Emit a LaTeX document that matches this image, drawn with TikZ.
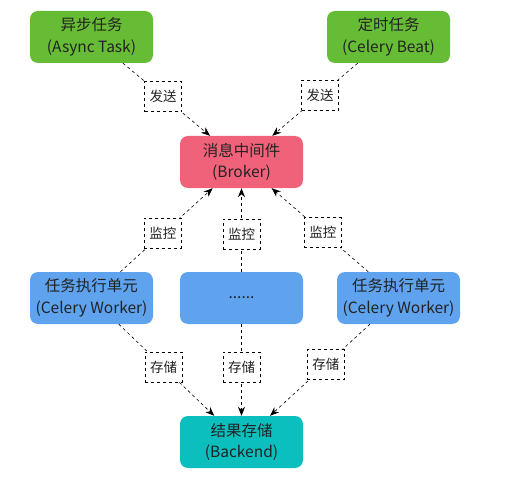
\documentclass[tikz,border=0pt]{standalone}
\usepackage{fontspec}
\setmainfont{Noto Sans CJK SC}
\usetikzlibrary{arrows.meta, positioning}
\usepackage{xcolor}
\definecolor{taskgreen}{HTML}{67BC35}
\definecolor{brokerred}{HTML}{F06279}
\definecolor{workerblue}{HTML}{5FA2EE}
\definecolor{backteal}{HTML}{0CBFBF}
\definecolor{textgray}{HTML}{222222}

\begin{document}
\begin{tikzpicture}[x=1pt, y=-1pt,
    every node/.style={text=textgray},
    unit/.style={rounded corners=8pt, minimum width=123pt, minimum height=52pt,
        align=center, font=\fontsize{15.5}{21.5}\selectfont, inner sep=0pt},
    tag/.style={draw, dashed, fill=white, minimum width=37pt, minimum height=30pt,
        inner sep=1pt, font=\fontsize{13.5}{15}\selectfont},
    link/.style={dashed, semithick, -{Stealth[length=9pt,width=7pt]}}]
    \useasboundingbox (0,0) rectangle (531,503);

    \node[unit, fill=taskgreen] (async) at (91.5,37) {异步任务\\(Async Task)};
    \node[unit, fill=taskgreen] (beat) at (388.5,37) {定时任务\\(Celery Beat)};
    \node[unit, fill=brokerred] (broker) at (241.5,162) {消息中间件\\(Broker)};
    \node[unit, fill=workerblue] (workerA) at (91.5,298) {任务执行单元\\(Celery Worker)};
    \node[unit, fill=workerblue] (workerM) at (241.5,298) {......};
    \node[unit, fill=workerblue] (workerB) at (398.5,298) {任务执行单元\\(Celery Worker)};
    \node[unit, fill=backteal] (backend) at (241.5,442) {结果存储\\(Backend)};

    % sending tasks
    \draw[link] (async) -- node[tag, pos=0.46] (sendA) {发送} (broker);
    \draw[link] (beat) -- node[tag, pos=0.44] (sendB) {发送} (broker);

    % monitoring
    \draw[link] (workerA) -- node[tag, pos=0.46] (watchA) {监控} (broker);
    \draw[link] (workerM) -- node[tag, pos=0.45] (watchM) {监控} (broker);
    \draw[link] (workerB) -- node[tag, pos=0.47] (watchB) {监控} (broker);

    % storing results
    \draw[link] (workerA) -- node[tag, pos=0.47] (storeA) {存储} (backend);
    \draw[link] (workerM) -- node[tag, pos=0.47] (storeM) {存储} (backend);
    \draw[link] (workerB) -- node[tag, pos=0.44] (storeB) {存储} (backend);
\end{tikzpicture}
\end{document}
